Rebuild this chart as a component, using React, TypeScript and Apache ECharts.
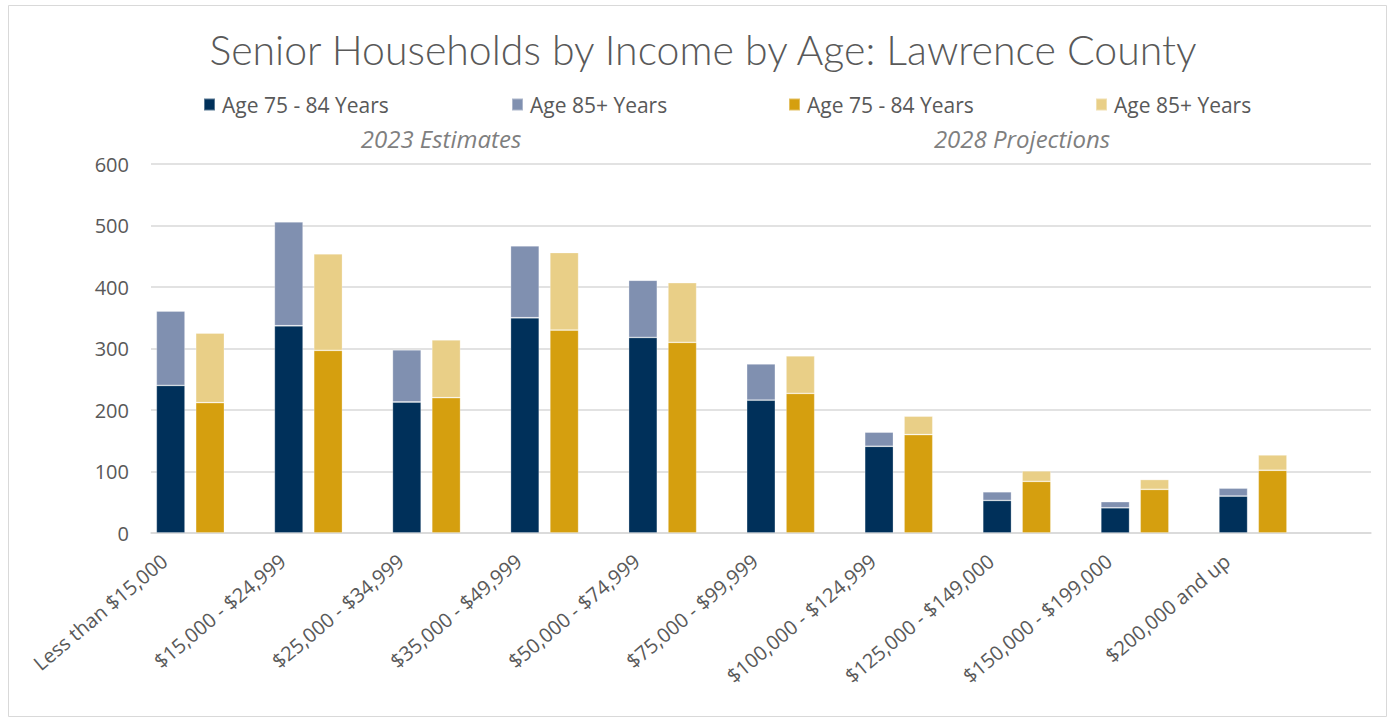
import React, { useEffect, useRef } from "react";
import * as echarts from "echarts";

const categories = [
  "Less than $15,000",
  "$15,000 - $24,999",
  "$25,000 - $34,999",
  "$35,000 - $49,999",
  "$50,000 - $74,999",
  "$75,000 - $99,999",
  "$100,000 - $124,999",
  "$125,000 - $149,000",
  "$150,000 - $199,000",
  "$200,000 and up",
];

const est2023Age75to84 = [240, 337, 213, 350, 318, 216, 141, 53, 41, 60];
const est2023Age85plus = [121, 169, 85, 117, 93, 59, 23, 14, 10, 13];
const proj2028Age75to84 = [212, 297, 220, 330, 310, 227, 160, 84, 71, 102];
const proj2028Age85plus = [113, 157, 94, 126, 97, 61, 30, 17, 16, 25];

const yTicks = [0, 100, 200, 300, 400, 500, 600];

const legendLabels = ["Age 75 - 84 Years", "Age 85+ Years", "Age 75 - 84 Years", "Age 85+ Years"];
const seriesKeys = ["2023|0", "2023|1", "2028|2", "2028|3"];

// Excel layout: each income bracket occupies three slots (2023 bar, 2028 bar, gap), plus one trailing slot
const SLOTS_PER_GROUP = 3;
const TOTAL_SLOTS = categories.length * SLOTS_PER_GROUP + 1;

function slotAxis(): string[] {
  const out: string[] = [];
  for (let i = 0; i < TOTAL_SLOTS; i++) {
    out.push(i % SLOTS_PER_GROUP === 0 && i / SLOTS_PER_GROUP < categories.length ? categories[i / SLOTS_PER_GROUP] : "");
  }
  return out;
}

function slotData(values: number[], offset: number): (number | null)[] {
  const out: (number | null)[] = new Array(TOTAL_SLOTS).fill(null);
  values.forEach((v, k) => {
    out[k * SLOTS_PER_GROUP + offset] = v;
  });
  return out;
}

export default function App() {
  const ref = useRef<HTMLDivElement>(null);
  useEffect(() => {
    if (!ref.current) return;
    const chart = echarts.init(ref.current, null, { renderer: "svg" });
    const font = "'Open Sans', sans-serif";
    const legendLefts = [203, 511, 788, 1095];
    const colors = ["#00305A", "#8090B0", "#D59F0F", "#E9CF87"];
    const datas = [
      slotData(est2023Age75to84, 0),
      slotData(est2023Age85plus, 0),
      slotData(proj2028Age75to84, 1),
      slotData(proj2028Age85plus, 1),
    ];
    const series: any[] = seriesKeys.map((n, i) => ({
      name: n,
      type: "bar",
      stack: "all",
      data: datas[i],
      barCategoryGap: "27%",
      itemStyle: { color: colors[i], borderColor: "rgba(255,255,255,0.35)", borderWidth: 0.8 },
    }));
    chart.setOption({
      animation: false,
      backgroundColor: "#ffffff",
      grid: { left: 151, right: 17, top: 164, bottom: 184, containLabel: false },
      legend: seriesKeys.map((n, i) => ({
        data: [n],
        left: legendLefts[i],
        top: 94,
        padding: 0,
        icon: "rect",
        itemWidth: 11,
        itemHeight: 12,
        itemGap: 0,
        selectedMode: false,
        formatter: () => legendLabels[i],
        textStyle: { fontFamily: font, fontSize: 21, color: "#595959", padding: [0, 0, 0, 2] },
      })),
      graphic: [
        {
          type: "rect",
          shape: { x: 8.5, y: 5.5, width: 1378, height: 711 },
          style: { fill: "none", stroke: "#D9D9D9", lineWidth: 1 },
          silent: true,
        },
        {
          type: "text",
          x: 703,
          y: 49,
          style: {
            text: "Senior Households by Income by Age: Lawrence County",
            font: "300 41px 'Lato', 'Open Sans', sans-serif",
            fill: "#595959",
            textAlign: "center",
            textVerticalAlign: "middle",
          },
        },
        {
          type: "text",
          x: 441,
          y: 138,
          style: {
            text: "2023 Estimates",
            font: "italic 24px 'Open Sans', sans-serif",
            fill: "#7F7F7F",
            textAlign: "center",
            textVerticalAlign: "middle",
          },
        },
        {
          type: "text",
          x: 1022,
          y: 138,
          style: {
            text: "2028 Projections",
            font: "italic 24px 'Open Sans', sans-serif",
            fill: "#7F7F7F",
            textAlign: "center",
            textVerticalAlign: "middle",
          },
        },
      ],
      xAxis: {
        type: "category",
        data: slotAxis(),
        axisLine: { show: true, lineStyle: { color: "#D9D9D9", width: 1.5 } },
        axisTick: { show: false },
        axisLabel: {
          rotate: 40,
          interval: 0,
          margin: 20,
          align: "right",
          verticalAlign: "middle",
          padding: [0, 8, 0, 0],
          fontFamily: font,
          fontSize: 20,
          color: "#595959",
        },
      },
      yAxis: {
        type: "value",
        min: yTicks[0],
        max: yTicks[yTicks.length - 1],
        interval: 100,
        axisLine: { show: false },
        axisTick: { show: false },
        splitLine: { lineStyle: { color: "#D9D9D9", width: 1.5 } },
        axisLabel: { fontFamily: font, fontSize: 20, color: "#595959", margin: 22 },
      },
      series,
    });
    return () => chart.dispose();
  }, []);
  return (
    <div
      ref={ref}
      style={{ position: "absolute", left: 0, top: 0, width: 1388, height: 717 }}
    />
  );
}
